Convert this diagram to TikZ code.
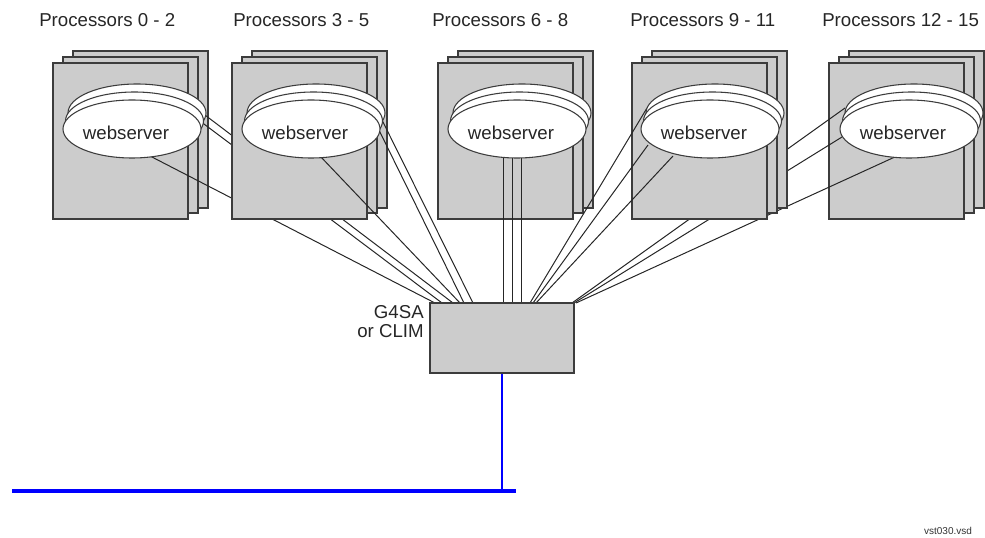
\documentclass[tikz,border=0pt]{standalone}
\usepackage{fontspec}
\setmainfont{Liberation Sans}
\usetikzlibrary{shapes.geometric}

\definecolor{cardgray}{HTML}{CCCCCC}
\definecolor{edgegray}{HTML}{3C3C3C}
\definecolor{linkgray}{HTML}{262626}

% one processor group: three stacked cards, #1 = left edge of the front card
\newcommand\cardstack[1]{%
  \draw[card] (#1+20,51) rectangle (#1+155,208);
  \draw[card] (#1+10,57) rectangle (#1+145,213);
  \draw[card] (#1,63) rectangle (#1+135,219);
}
% stacked webserver disks, #1 = name prefix, #2 = centre x of the front disk
\newcommand\diskstack[2]{%
  \node[disk] (#1r2) at (#2+5,113) {};
  \node[disk] (#1r1) at (#2+2.5,121) {};
  \node[disk] (#1) at (#2,129) {};
  \node[wtext] (#1t) at (#2-6,140) {webserver};
}

\begin{document}
\begin{tikzpicture}[x=0.75pt,y=-0.75pt,
  card/.style={draw=edgegray,fill=cardgray,line width=1pt},
  disk/.style={ellipse,draw=edgegray,fill=white,line width=0.8pt,
    minimum width=103.5pt,minimum height=43.5pt,inner sep=0pt},
  wtext/.style={anchor=base,inner sep=0pt,font=\fontsize{14}{16}\selectfont,text=black!85},
  title/.style={anchor=base west,inner sep=0pt,font=\fontsize{14}{16}\selectfont,text=black!85},
  link/.style={draw=linkgray,line width=0.75pt},
  lanbus/.style={draw=blue,line width=2.6pt},
  lanstub/.style={draw=blue,line width=1.5pt}]

\useasboundingbox (0,0) rectangle (985,538);

% ports on the top edge of the adapter
\foreach \n/\x in {p1/435,p2/442,p3/453,p4/460,p5/464,p6/473,
                   p7/503,p8/512,p9/521,p10/530,p11/533,p12/536,
                   p13/572,p14/574,p15/576}
  \coordinate (\n) at (\x,303);

% Processors 0 - 2
\cardstack{53}
\coordinate (a1) at (201,112);
\coordinate (a2) at (200,121);
\coordinate (a3) at (150,156);
\draw[link] (a1) -- (p3);
\draw[link] (a2) -- (p2);
\draw[link] (a3) -- (p1);
\diskstack{g1}{132}

% Processors 3 - 5
\cardstack{232}
\coordinate (b1) at (377,110);
\coordinate (b2) at (375,122);
\coordinate (b3) at (320,156);
\draw[link] (b1) -- (p6);
\draw[link] (b2) -- (p5);
\draw[link] (b3) -- (p4);
\diskstack{g2}{311}

% Processors 6 - 8
\cardstack{438}
\coordinate (c1) at (503,150);
\coordinate (c2) at (512,150);
\coordinate (c3) at (521,150);
\draw[link] (c1) -- (p7);
\draw[link] (c2) -- (p8);
\draw[link] (c3) -- (p9);
\diskstack{g3}{517}

% Processors 12 - 15 (its links run behind the 9 - 11 group)
\cardstack{829}
\coordinate (e1) at (845,108);
\coordinate (e2) at (842,137);
\coordinate (e3) at (897,156);
\draw[link] (e1) -- (p13);
\draw[link] (e2) -- (p14);
\draw[link] (e3) -- (p15);
\diskstack{g5}{909}

% Processors 9 - 11
\cardstack{632}
\coordinate (d1) at (647,108);
\coordinate (d2) at (648,145);
\coordinate (d3) at (673,156);
\draw[link] (d1) -- (p10);
\draw[link] (d2) -- (p11);
\draw[link] (d3) -- (p12);
\diskstack{g4}{710}

% adapter and LAN
\node[card,minimum width=108pt,minimum height=52.5pt,inner sep=0pt] (g4sa) at (502,338) {};
\coordinate (lanL) at (12,491);
\coordinate (lanR) at (516,491);
\draw[lanstub] (g4sa.south) -- (g4sa.south |- lanL);
\draw[lanbus] (lanL) -- (lanR);

% labels
\node[anchor=base east,inner sep=0pt,font=\fontsize{14}{16}\selectfont,text=black!85] (lblA) at (424,318) {G4SA};
\node[anchor=base east,inner sep=0pt,font=\fontsize{14}{16}\selectfont,text=black!85] (lblB) at (424,337) {or CLIM};

\node[title] (t1) at (39,27) {Processors 0 - 2};
\node[title] (t2) at (233,27) {Processors 3 - 5};
\node[title] (t3) at (432,27) {Processors 6 - 8};
\node[title] (t4) at (630,27) {Processors 9 - 11};
\node[title] (t5) at (822,27) {Processors 12 - 15};

\node[anchor=base,inner sep=0pt,font=\fontsize{7.5}{9}\selectfont,text=black!80] (fileid) at (948,534) {vst030.vsd};
\end{tikzpicture}
\end{document}
